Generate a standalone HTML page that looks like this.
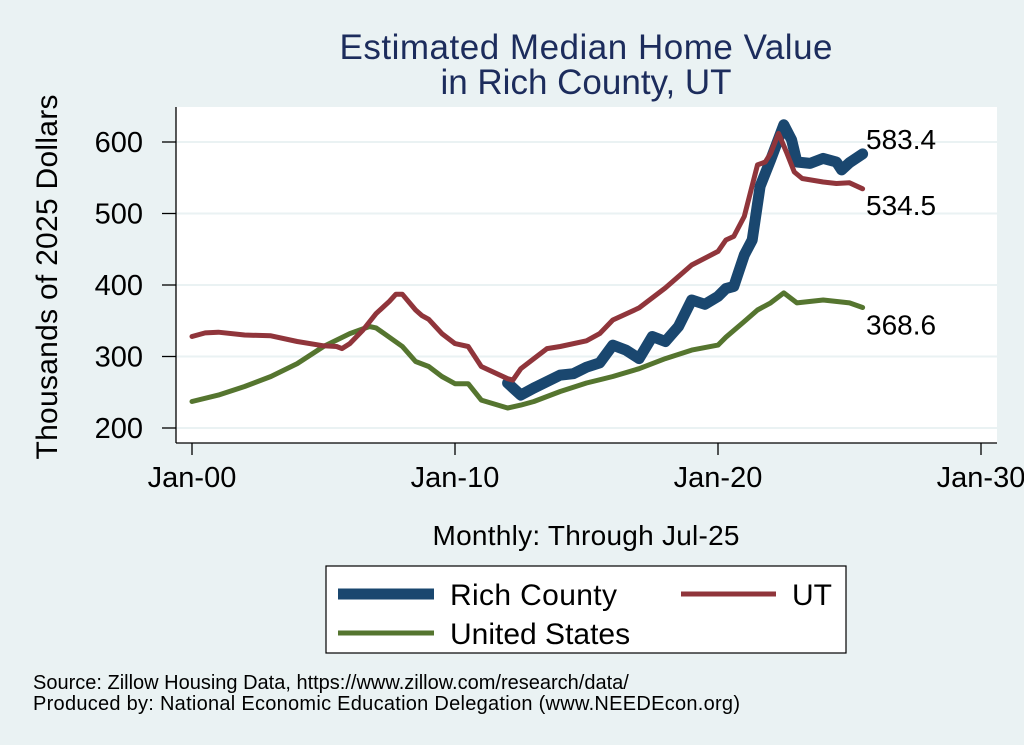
<!DOCTYPE html>
<html><head><meta charset="utf-8"><style>
body{margin:0;background:#eaf2f3;}
svg{display:block;font-family:"Liberation Sans",Arial,sans-serif;}
</style></head><body>
<svg id="chart" width="1024" height="745" viewBox="0 0 1024 745">
<rect x="0" y="0" width="1024" height="745" fill="#eaf2f3"/>
<text x="586" y="59" font-size="35" fill="#1c2c5c" text-anchor="middle" textLength="493">Estimated Median Home Value</text>
<text x="586" y="94" font-size="35" fill="#1c2c5c" text-anchor="middle">in Rich County, UT</text>
<rect x="176" y="107" width="821" height="336" fill="#ffffff"/>
<g id="grid"></g><g id="axes"></g><g id="series"></g>
<text transform="translate(57,277) rotate(-90)" font-size="30" text-anchor="middle" textLength="365" fill="#000">Thousands of 2025 Dollars</text>
<text x="586" y="545" font-size="28" text-anchor="middle" textLength="307" fill="#000">Monthly: Through Jul-25</text>
<g>
<rect x="326" y="566" width="520" height="87" fill="#fff" stroke="#000" stroke-width="1.2"/>
<line x1="338" y1="594" x2="434" y2="594" stroke="#1a476f" stroke-width="11"/>
<text x="450" y="605" font-size="30" textLength="167">Rich County</text>
<line x1="681" y1="594" x2="776" y2="594" stroke="#90353b" stroke-width="5"/>
<text x="792" y="605" font-size="30">UT</text>
<line x1="338" y1="633" x2="434" y2="633" stroke="#55752f" stroke-width="5"/>
<text x="450" y="644" font-size="30">United States</text>
</g>
<text x="33" y="689" font-size="20">Source: Zillow Housing Data, https://www.zillow.com/research/data/</text>
<text x="33" y="710" font-size="20" textLength="707">Produced by: National Economic Education Delegation (www.NEEDEcon.org)</text>
</svg>
<script>
const yTicks=[200,300,400,500,600];
const xTicks=[2000,2010,2020,2030];
const xTickLabels=["Jan-00","Jan-10","Jan-20","Jan-30"];
const usT=[2000,2001,2002,2003,2004,2005,2006,2006.75,2007,2008,2008.5,2009,2009.5,2010,2010.5,2011,2012,2012.5,2013,2014,2015,2016,2017,2018,2019,2020,2020.3,2021,2021.5,2022,2022.5,2023,2024,2025,2025.5];
const usV=[237,246,258,272,290,314,332,342,340,314,293,286,272,262,262,239,228,232,237,251,263,272,283,297,309,316,327,349,365,375,389,375,379,375,368.6];
const utT=[2000,2000.5,2001,2002,2003,2004,2005,2005.5,2005.7,2006,2006.5,2007,2007.5,2007.75,2008,2008.5,2008.75,2009,2009.5,2010,2010.5,2011,2012,2012.2,2012.5,2013,2013.5,2014,2015,2015.5,2016,2017,2018,2019,2020,2020.3,2020.6,2021,2021.5,2021.8,2022,2022.3,2022.6,2022.9,2023.2,2024,2024.5,2025,2025.5];
const utV=[328,333,334,330,329,321,315,314,311,318,337,360,377,387,387,365,357,352,332,318,314,286,269,267,283,297,311,314,322,332,351,368,396,428,447,463,468,496,568,572,584,612,586,558,549,544,542,543,534.5];
const rcT=[2012,2012.5,2013,2014,2014.5,2015,2015.5,2016,2016.5,2017,2017.5,2018,2018.5,2019,2019.5,2020,2020.3,2020.6,2021,2021.3,2021.6,2022,2022.5,2022.8,2023,2023.5,2024,2024.5,2024.7,2025,2025.5];
const rcV=[263,246,256,274,276,285,291,316,309,297,328,321,342,379,373,384,395,398,442,463,538,575,624,603,572,570,577,572,561,571,583.4];
const endLabels=["583.4","534.5","368.6"];
const NS="http://www.w3.org/2000/svg";
const X0=176,X1=997,Y0=107,Y1=443;
function xs(t){return 192+(t-2000)*26.3;}
function ys(v){return 142+(600-v)*0.715;}
function mk(tag,attrs,parent){const e=document.createElementNS(NS,tag);for(const k in attrs)e.setAttribute(k,attrs[k]);parent.appendChild(e);return e;}
const grid=document.getElementById('grid'),axes=document.getElementById('axes'),ser=document.getElementById('series');
yTicks.forEach(v=>{
 const g=mk('line',{x1:X0,x2:X1,y1:ys(v),y2:ys(v),stroke:'#eaf2f3','stroke-width':2},grid);
 
 
 const t=mk('line',{x1:X0-14,x2:X0,y1:ys(v),y2:ys(v),stroke:'#000','stroke-width':1.3},axes);
 
 
 const l=mk('text',{x:X0-33,y:ys(v)+10,'font-size':29,'text-anchor':'end'},axes);
 l.textContent=v;
 
 
});
const ya=mk('line',{x1:X0,x2:X0,y1:Y0,y2:Y1,stroke:'#000','stroke-width':1.3},axes);


const xa=mk('line',{x1:X0,x2:X1,y1:Y1,y2:Y1,stroke:'#000','stroke-width':1.3},axes);


xTicks.forEach((t,i)=>{
 const k=mk('line',{x1:xs(t),x2:xs(t),y1:Y1,y2:Y1+12,stroke:'#000','stroke-width':1.3},axes);
 
 
 const l=mk('text',{x:xs(t),y:487,'font-size':29,'text-anchor':'middle'},axes);
 l.textContent=xTickLabels[i];
 
 
});
function line(T,V,color,w,name){
 const d=T.map((t,i)=>(i?'L':'M')+xs(t).toFixed(1)+' '+ys(V[i]).toFixed(1)).join(' ');
 const p=mk('path',{d:d,fill:'none',stroke:color,'stroke-width':w,'stroke-linejoin':'round','stroke-linecap':'round'},ser);
 
 
}
line(usT,usV,'#55752f',5,'us-line');
line(rcT,rcV,'#1a476f',11,'rich-county-line');
line(utT,utV,'#90353b',5,'ut-line');
const ends=[[rcT,rcV,-5],[utT,utV,26],[usT,usV,27]];
ends.forEach((s,i)=>{
 const V=s[1];
 const l=mk('text',{x:866,y:ys(V[V.length-1])+s[2],'font-size':28},ser);
 l.textContent=endLabels[i];
 
 
});
</script>
</body></html>
